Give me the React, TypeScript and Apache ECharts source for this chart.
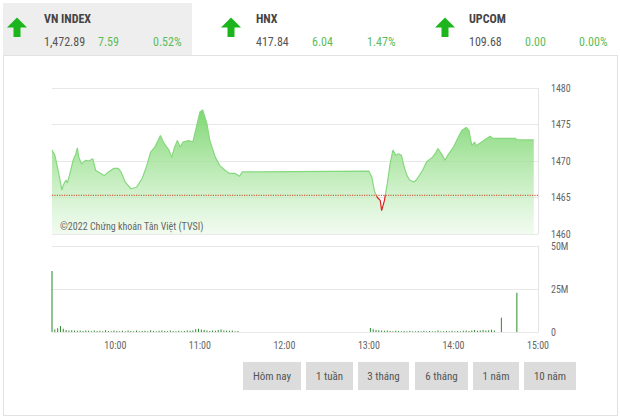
import React, { useEffect, useRef } from "react";
import * as echarts from "echarts";

// ---------- data ----------
const priceTimes = [
  "9:15", "9:17", "9:20", "9:22", "9:23", "9:25", "9:26", "9:28", "9:30", "9:32",
  "9:33", "9:34", "9:36", "9:39", "9:41", "9:44", "9:46", "9:48", "9:52", "9:55",
  "9:59", "10:02", "10:04", "10:07", "10:11", "10:15", "10:19", "10:22", "10:25", "10:28",
  "10:32", "10:34", "10:38", "10:40", "10:42", "10:44", "10:46", "10:48", "10:52", "10:55",
  "10:58", "11:00", "11:02", "11:05", "11:07", "11:11", "11:14", "11:18", "11:21", "11:25",
  "11:28", "11:30", "13:00", "13:02", "13:04", "13:06", "13:08", "13:09", "13:11", "13:13",
  "13:15", "13:17", "13:19", "13:21", "13:23", "13:25", "13:27", "13:29", "13:32", "13:34",
  "13:38", "13:41", "13:45", "13:47", "13:49", "13:52", "13:54", "13:56", "14:00", "14:04",
  "14:06", "14:09", "14:11", "14:13", "14:15", "14:16", "14:20", "14:23", "14:26", "14:28",
  "14:30", "14:44", "14:45", "14:57",
];
const priceValues = [
  1471.5, 1470.8, 1468.1, 1466.0, 1466.7, 1467.4, 1467.0, 1468.5, 1470.1, 1471.0,
  1471.8, 1470.5, 1469.6, 1470.1, 1470.0, 1470.3, 1468.7, 1468.5, 1468.0, 1468.5,
  1469.0, 1469.0, 1468.5, 1467.1, 1466.2, 1466.4, 1467.6, 1469.2, 1471.2, 1471.9,
  1473.5, 1472.6, 1471.5, 1470.5, 1471.9, 1472.8, 1471.9, 1472.6, 1472.8, 1472.6,
  1475.1, 1476.7, 1477.0, 1475.1, 1472.8, 1470.5, 1469.4, 1468.7, 1468.3, 1468.3,
  1467.9, 1468.5, 1468.6, 1467.8, 1465.8, 1465.0, 1464.6, 1463.2, 1464.6, 1466.9,
  1469.6, 1471.5, 1470.8, 1471.0, 1470.8, 1469.2, 1468.0, 1467.4, 1467.1, 1467.5,
  1468.7, 1469.9, 1470.5, 1471.0, 1471.7, 1470.8, 1470.1, 1470.8, 1471.9, 1473.5,
  1474.2, 1474.6, 1474.2, 1472.1, 1472.6, 1472.1, 1472.6, 1473.0, 1473.4, 1473.1,
  1473.1, 1473.1, 1472.89, 1472.89,
];
const referencePrice = 1465.3;

// volume (millions)
const volSpikeTimes = ["9:15", "14:34", "14:45"];
const volSpikeValues = [35.5, 8.3, 22.8];
const volMorningStart = "9:17"; // one bar every 2 minutes
const volMorningValues = [
  1.4, 2.2, 3.5, 1.9, 1.2, 0.9, 1.0, 0.8, 0.7, 0.9, 0.6, 0.8, 0.7, 0.5, 0.9, 0.6,
  0.7, 0.5, 1.0, 0.6, 0.5, 0.8, 0.6, 0.4, 0.7, 0.5, 0.9, 0.6, 0.5, 0.8, 0.4, 0.6,
  0.7, 0.5, 1.0, 0.6, 0.5, 0.7, 0.9, 0.6, 0.5, 0.8, 0.6, 0.4, 0.7, 0.5, 0.6, 0.8,
  0.7, 0.9, 1.6, 1.9, 1.4, 1.1, 0.8, 0.6, 0.9, 0.7, 1.2, 1.4, 0.8, 0.9, 0.7, 0.8,
  0.5, 0.6,
];
const volAfternoonStart = "13:01"; // one bar every 2 minutes
const volAfternoonValues = [
  2.3, 1.6, 1.2, 1.0, 0.9, 0.7, 0.8, 0.6, 0.5, 0.7, 0.6, 0.4, 0.6, 0.5, 0.7, 0.4,
  0.5, 0.6, 0.4, 0.7, 0.5, 0.6, 0.4, 0.5, 0.8, 0.5, 0.4, 0.6, 0.5, 0.7, 0.4, 0.6,
  0.5, 0.7, 0.9, 0.6, 0.8, 1.2, 0.7, 0.9, 1.1, 0.8, 1.0, 1.3, 0.9,
];

const priceMin = 1460;
const priceMax = 1480;
const priceStep = 5;
const volMax = 50;
const volStep = 25;
const sessionStart = "9:15";
const sessionEnd = "15:00";

const indexNames = ["VN INDEX", "HNX", "UPCOM"];
const indexValues = ["1,472.89", "417.84", "109.68"];
const indexChanges = ["7.59", "6.04", "0.00"];
const indexPercents = ["0.52%", "1.47%", "0.00%"];

const rangeButtons = ["Hôm nay", "1 tuần", "3 tháng", "6 tháng", "1 năm", "10 năm"];
const watermark = "©2022 Chứng khoán Tân Việt (TVSI)";

// ---------- helpers / layout ----------
const toMin = (s: string) => {
  const [h, m] = s.split(":").map(Number);
  return h * 60 + m;
};
const fmtTime = (v: number) => {
  const h = Math.floor(v / 60);
  const m = v % 60;
  return `${h}:${m < 10 ? "0" + m : m}`;
};

const FONT = "'Roboto Condensed', 'DejaVu Sans Condensed', Roboto, sans-serif";

const headerLayout = [
  { arrow: 17, name: 44, change: 98, pct: 153 },
  { arrow: 231, name: 256, change: 312, pct: 367 },
  { arrow: 445, name: 469, change: 525, pct: 579 },
];
const buttonLayout = [
  { x: 243, w: 58 },
  { x: 306, w: 47 },
  { x: 358, w: 51 },
  { x: 415, w: 53 },
  { x: 473, w: 46 },
  { x: 524, w: 52 },
];

export default function App() {
  const ref = useRef<HTMLDivElement>(null);

  useEffect(() => {
    if (!ref.current) return;
    const chart = echarts.init(ref.current, null, { renderer: "svg" });

    const priceData = priceTimes.map((t, i) => [toMin(t), priceValues[i]]);
    const refData = [
      [toMin(sessionStart), referencePrice],
      [toMin(sessionEnd), referencePrice],
    ];
    const volData: number[][] = [];
    volSpikeTimes.forEach((t, i) => volData.push([toMin(t), volSpikeValues[i]]));
    volMorningValues.forEach((v, i) => volData.push([toMin(volMorningStart) + 2 * i, v]));
    volAfternoonValues.forEach((v, i) => volData.push([toMin(volAfternoonStart) + 2 * i, v]));

    const graphics: any[] = [];
    graphics.push({ type: "rect", z: -10, shape: { x: 3, y: 3, width: 189, height: 52 }, style: { fill: "#eeeeee" } });
    const border = "#e2e2e2";
    graphics.push({ type: "line", shape: { x1: 3, y1: 55.5, x2: 617, y2: 55.5 }, style: { stroke: border, lineWidth: 1 } });
    graphics.push({ type: "line", shape: { x1: 3.5, y1: 55, x2: 3.5, y2: 416 }, style: { stroke: border, lineWidth: 1 } });
    graphics.push({ type: "line", shape: { x1: 617.5, y1: 55, x2: 617.5, y2: 416 }, style: { stroke: border, lineWidth: 1 } });
    graphics.push({ type: "line", shape: { x1: 3, y1: 415.5, x2: 618, y2: 415.5 }, style: { stroke: border, lineWidth: 1 } });

    headerLayout.forEach((L, i) => {
      const cx = L.arrow;
      graphics.push({
        type: "polygon",
        shape: {
          points: [
            [cx, 17.5], [cx + 10, 27.5], [cx + 3.5, 27.5], [cx + 3.5, 37],
            [cx - 3.5, 37], [cx - 3.5, 27.5], [cx - 10, 27.5],
          ],
        },
        style: { fill: "#1db51d" },
      });
      graphics.push({ type: "text", x: L.name, y: 19, style: { text: indexNames[i], fill: "#444444", font: `bold 12px ${FONT}`, verticalAlign: "middle" } });
      graphics.push({ type: "text", x: L.name, y: 42, style: { text: indexValues[i], fill: "#555555", font: `12px ${FONT}`, verticalAlign: "middle" } });
      graphics.push({ type: "text", x: L.change, y: 42, style: { text: indexChanges[i], fill: "#5cbc5c", font: `12px ${FONT}`, verticalAlign: "middle" } });
      graphics.push({ type: "text", x: L.pct, y: 42, style: { text: indexPercents[i], fill: "#5cbc5c", font: `12px ${FONT}`, verticalAlign: "middle" } });
    });

    graphics.push({ type: "text", x: 60, y: 226, z: 10, style: { text: watermark, fill: "#666666", font: `10px ${FONT}`, verticalAlign: "middle" } });

    buttonLayout.forEach((b, i) => {
      graphics.push({ type: "rect", shape: { x: b.x, y: 362, width: b.w, height: 28 }, style: { fill: "#dcdcdc" } });
      graphics.push({
        type: "text", x: b.x + b.w / 2, y: 376,
        style: { text: rangeButtons[i], fill: "#555555", font: `11px ${FONT}`, align: "center", verticalAlign: "middle" },
      });
    });

    const axisLabelStyle = { color: "#666666", fontSize: 10, fontFamily: FONT };

    chart.setOption({
      animation: false,
      backgroundColor: "#ffffff",
      grid: [
        { left: 52, right: 82, top: 88, height: 146 },
        { left: 52, right: 82, top: 246, height: 86 },
      ],
      xAxis: [
        {
          gridIndex: 0, type: "value", min: toMin(sessionStart), max: toMin(sessionEnd), interval: 15,
          axisLabel: { show: false }, axisLine: { show: false }, axisTick: { show: false }, splitLine: { show: false },
        },
        {
          gridIndex: 1, type: "value", min: toMin(sessionStart), max: toMin(sessionEnd), interval: 15,
          axisLabel: { ...axisLabelStyle, margin: 8, formatter: (v: number) => (v % 60 === 0 ? fmtTime(v) : "") },
          axisLine: { show: false }, axisTick: { show: false }, splitLine: { show: false },
        },
      ],
      yAxis: [
        {
          gridIndex: 0, type: "value", position: "right", min: priceMin, max: priceMax, interval: priceStep,
          axisLabel: { ...axisLabelStyle, margin: 13, formatter: (v: number) => String(v) },
          axisLine: { show: true, lineStyle: { color: "#e4e4e4" } }, axisTick: { show: false },
          splitLine: { lineStyle: { color: "#e8e8e8" } },
        },
        {
          gridIndex: 1, type: "value", position: "right", min: 0, max: volMax, interval: volStep,
          axisLabel: { ...axisLabelStyle, margin: 13, formatter: (v: number) => (v === 0 ? "0" : v + "M") },
          axisLine: { show: true, lineStyle: { color: "#e4e4e4" } }, axisTick: { show: false },
          splitLine: { lineStyle: { color: "#e8e8e8" } },
        },
      ],
      visualMap: [
        {
          type: "piecewise", show: false, seriesIndex: 0, dimension: 1,
          pieces: [
            { gte: priceMin - 100, lt: referencePrice, color: "#e02222" },
            { gte: referencePrice, lte: priceMax + 100, color: "#86d87e" },
          ],
          outOfRange: { color: "#86d87e" },
        },
      ],
      series: [
        {
          type: "line", xAxisIndex: 0, yAxisIndex: 0, data: priceData, symbol: "none",
          lineStyle: { width: 1.2 },
          areaStyle: {
            origin: "start",
            opacity: 1,
            color: new echarts.graphic.LinearGradient(0, 0, 0, 1, [
              { offset: 0, color: "rgba(112,210,100,0.9)" },
              { offset: 0.45, color: "rgba(160,226,150,0.75)" },
              { offset: 1, color: "rgba(232,249,230,0.6)" },
            ]),
          },
        },
        {
          type: "line", xAxisIndex: 0, yAxisIndex: 0, data: refData, symbol: "none", silent: true,
          lineStyle: { color: "#cc6a40", type: "dotted", width: 1.2 },
          itemStyle: { color: "#cc6a40" },
          z: 3,
        },
        {
          type: "bar", xAxisIndex: 1, yAxisIndex: 1, data: volData, barWidth: 1,
          itemStyle: { color: "#2a8a2a" },
        },
      ],
      graphic: graphics,
    });

    return () => chart.dispose();
  }, []);

  return (
    <div
      ref={ref}
      style={{ position: "fixed", left: 0, top: 0, width: 620, height: 418, background: "#fff" }}
    />
  );
}
